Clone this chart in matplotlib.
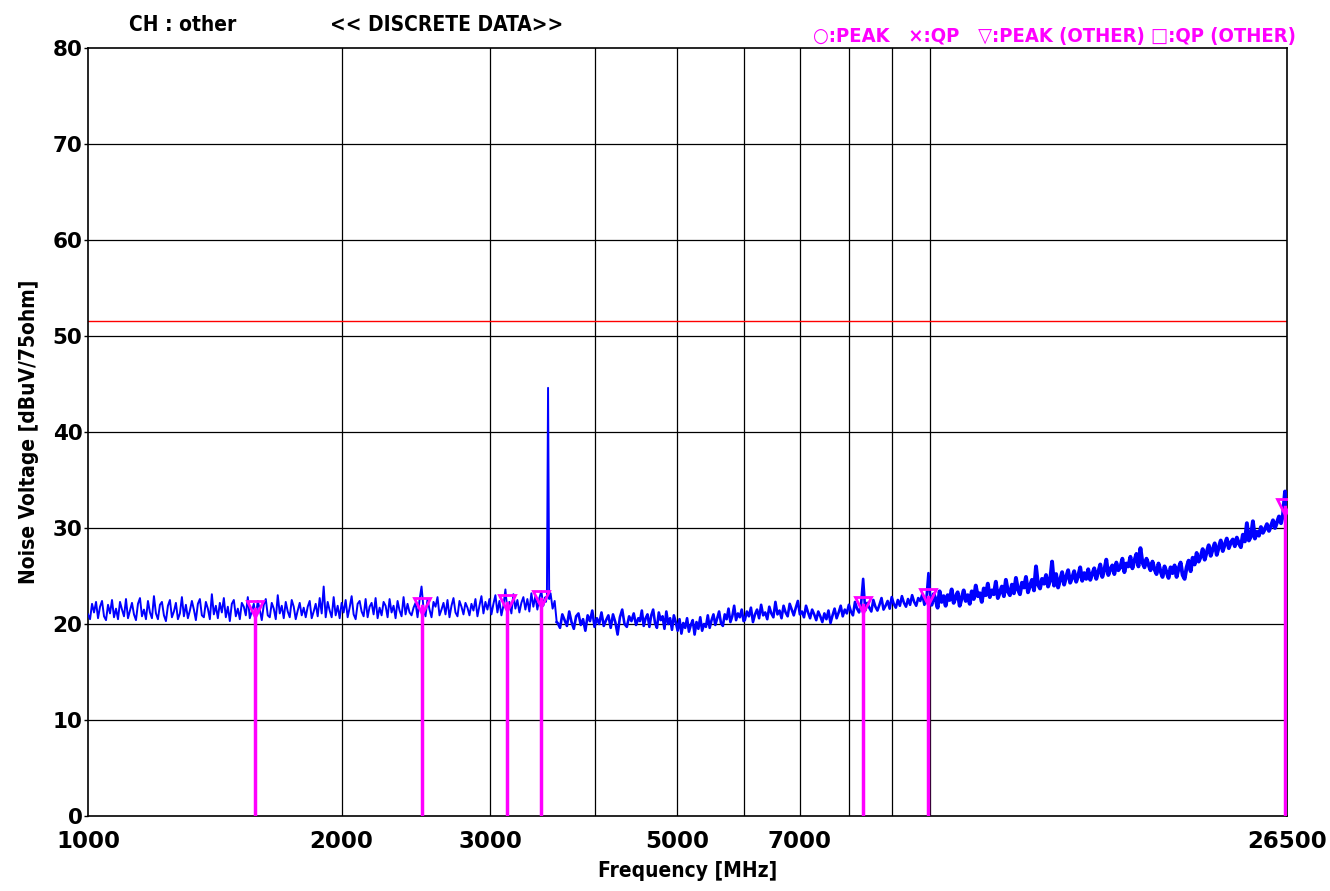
import matplotlib
matplotlib.use("Agg")
import matplotlib.pyplot as plt
import numpy as np

plt.rcParams['path.simplify'] = False

# ---------------- data ----------------
# measured trace, read off the picture segment by segment (MHz, dBuV)
segA_range = (1000, 3490)
segA = [21.0, 20.5, 22.1, 21.2, 22.3, 20.6, 21.8, 22.4, 20.8, 20.4, 22.0, 21.1, 22.5, 20.7, 21.6, 20.5, 22.3, 21.5, 20.8, 22.6,
        20.6, 21.4, 22.2, 21.0, 20.4, 22.1, 22.7, 20.8, 21.5, 20.5, 22.4, 21.2, 20.6, 22.9, 21.1, 20.5, 22.0, 22.3, 20.9, 20.3,
        21.9, 22.5, 20.7, 21.3, 22.2, 20.5, 21.1, 22.8, 20.8, 22.0, 20.6, 21.4, 22.4, 21.5, 20.4, 22.1, 22.6, 20.9, 20.7, 22.3,
        21.6, 20.5, 23.1, 21.0, 21.9, 20.6, 22.2, 21.2, 22.7, 20.7, 21.8, 20.3, 22.1, 22.5, 20.8, 21.6, 20.5, 22.2, 21.8, 20.9,
        22.8, 20.6, 21.3, 22.1, 20.7, 22.4, 21.5, 20.4, 22.0, 22.6, 20.9, 20.7, 22.2, 21.6, 20.5, 23.0, 21.1, 21.9, 20.6, 22.3,
        21.3, 20.7, 22.5, 21.8, 20.5, 21.4, 22.2, 20.9, 21.7, 20.7, 21.8, 22.4, 20.6, 21.3, 22.1, 20.8, 22.7, 21.1, 23.9, 20.7,
        22.3, 21.4, 20.7, 22.8, 20.9, 21.9, 20.6, 22.2, 21.2, 22.5, 20.7, 21.7, 22.9, 21.0, 20.5, 22.1, 22.4, 21.3, 20.8, 22.6,
        20.7, 21.8, 22.2, 21.0, 22.7, 20.6, 21.7, 20.9, 22.3, 21.9, 20.7, 22.6, 21.2, 21.9, 20.6, 22.4, 21.4, 20.8, 22.8, 21.0,
        22.1, 21.2, 20.9, 21.7, 22.2, 20.7, 22.5, 23.9, 21.6, 20.8, 22.6, 21.5, 20.7, 22.3, 21.8, 22.8, 20.9, 21.5, 22.2, 21.0,
        22.5, 20.7, 21.9, 22.7, 21.2, 20.8, 22.4, 21.8, 21.0, 22.2, 21.7, 20.9, 22.1, 21.4, 22.6, 20.8, 21.9, 22.9, 21.1, 22.3,
        21.5, 22.6, 21.0, 22.1, 23.0, 21.2, 22.4, 20.9, 21.9, 23.6, 21.3, 22.3, 21.1, 23.1, 21.6, 22.5, 21.2, 22.2, 22.8, 21.5,
        22.6, 21.3, 23.2, 21.8, 22.9, 21.5, 22.7, 23.4, 21.9, 22.8]
spike_freq = [3495, 3505, 3516, 3527, 3540, 3560, 3580, 3600]
spike_val = [22.3, 22.9, 44.6, 22.6, 23.2, 21.6, 22.4, 20.2]
segB_range = (3610, 4500)
segB = [20.1, 19.6, 21.0, 20.4, 19.8, 21.3, 20.2, 19.5, 20.8, 21.1, 19.9, 20.5, 19.3, 20.9, 20.3, 21.4, 19.7, 20.6,
        20.0, 21.2, 19.8, 20.4, 20.9, 19.6, 21.0, 20.2, 18.9, 20.7, 21.5, 20.0, 19.7, 20.8, 20.3, 21.1, 19.9, 20.6]
segC_range = (4520, 6000)
segC = [20.3, 21.4, 19.8, 20.6, 21.0, 19.7, 20.9, 21.5, 20.1, 19.6, 21.2, 20.4, 20.8, 19.5, 21.3, 20.0, 20.6, 19.4, 20.9, 20.2,
        19.3, 20.5, 19.0, 20.1, 19.6, 20.6, 19.2, 19.9, 20.4, 18.9, 20.2, 19.5, 20.7, 19.3, 20.0, 19.7, 20.9, 19.6, 20.4, 21.0,
        19.9, 20.6, 21.3, 20.1, 19.8, 21.0, 20.5, 21.6, 20.2, 20.8, 21.9, 20.4, 21.1, 20.7, 21.5, 20.3]
segD_range = (6020, 10000)
segD = [20.4, 21.3, 20.8, 21.7, 20.2, 21.0, 21.5, 20.6, 22.0, 20.9, 21.2, 20.5, 21.8, 21.1, 20.7, 22.3, 21.0, 21.4, 20.6, 21.9,
        21.2, 20.8, 22.1, 21.5, 20.9, 21.7, 22.4, 21.0, 21.3, 20.7, 21.9, 21.2, 20.6, 21.5, 21.0, 20.4, 21.3, 20.8, 20.2, 21.1,
        20.5, 21.4, 20.1, 20.9, 21.6, 20.6, 21.2, 21.9, 20.8, 21.5, 21.1, 22.0, 21.3, 20.9, 22.3, 21.6, 21.2, 22.1, 24.7, 21.4,
        22.2, 21.7, 21.3, 22.5, 21.8, 21.4, 22.0, 22.7, 21.5, 21.9, 22.4, 21.6, 22.8, 22.1, 21.7, 22.5, 21.9, 22.9, 22.2, 21.8,
        22.6, 22.0, 23.0, 22.3, 21.9, 22.7, 22.4, 23.1, 22.0, 22.6, 25.3, 22.3]
segE_range = (10030, 26500)
segE = [22.0, 23.1, 22.6, 21.7, 23.4, 22.3, 22.9, 21.9, 23.0, 22.5, 23.6, 22.2, 22.8, 23.3, 21.9, 22.7, 23.5, 22.4, 23.0, 22.1,
        23.4, 22.6, 24.0, 22.9, 23.2, 22.3, 23.7, 23.0, 24.2, 22.8, 23.5, 23.1, 24.4, 22.7, 23.3, 23.9, 22.9, 24.6, 23.4, 23.0,
        24.1, 23.2, 24.8, 23.6, 23.1, 24.3, 23.8, 24.9, 23.3, 24.0, 24.6, 23.5, 26.0, 24.1, 23.7, 24.7, 24.2, 25.1, 23.9, 24.5,
        26.5, 24.0, 25.2, 23.8, 24.6, 25.4, 24.1, 24.9, 25.6, 24.3, 24.8, 25.5, 24.4, 25.0, 25.9, 24.5, 25.3, 24.7, 25.7, 24.6,
        25.2, 25.8, 24.7, 25.4, 26.2, 24.9, 25.6, 26.7, 25.1, 25.7, 26.1, 25.2, 26.4, 25.6, 25.9, 26.8, 25.4, 26.3, 26.0, 27.0,
        25.8, 26.6, 27.3, 26.0, 27.9, 26.4, 25.9, 26.8, 26.2, 25.6, 26.5, 25.7, 25.2, 26.3, 25.5, 24.9, 26.0, 25.4, 24.8, 25.9,
        25.3, 26.1, 24.9, 25.8, 26.4, 25.1, 24.7, 25.9, 26.6, 25.5, 26.9, 26.2, 27.4, 26.5, 27.0, 27.8, 26.7, 27.5, 28.2, 27.1,
        27.8, 28.4, 27.2, 28.0, 28.7, 27.6, 28.3, 28.9, 27.9, 28.5, 28.8, 28.1, 29.0, 28.4, 28.0, 29.3, 28.6, 30.5, 28.7, 29.1,
        30.7, 28.9, 29.6, 29.2, 30.1, 29.5, 29.9, 30.4, 29.7, 30.2, 30.8, 30.0, 30.6, 31.2, 30.5, 31.4, 33.8, 31.2]

# discrete peak (other) markers
peak_freq = [1579, 2492, 3144, 3450, 8318, 9935, 26360]
peak_val = [21.6, 21.9, 22.2, 22.6, 22.0, 22.8, 32.2]

limit_val = 51.6

xtick_vals = [1000, 2000, 3000, 5000, 7000, 26500]
xgrid_vals = [2000, 3000, 4000, 5000, 6000, 7000, 8000, 9000, 10000]
yticks = list(range(0, 81, 10))

# ---------------- build trace ----------------
def seg_freqs(rng, vals):
    return np.geomspace(rng[0], rng[1], len(vals))

# lower band (1-3.6 GHz) is drawn thin, the denser upper part thicker
freq_lo = np.concatenate([seg_freqs(segA_range, segA), spike_freq])
level_lo = np.concatenate([segA, spike_val])
freq_mid = np.concatenate([[spike_freq[-1]], seg_freqs(segB_range, segB),
                           seg_freqs(segC_range, segC), seg_freqs(segD_range, segD)])
level_mid = np.concatenate([[spike_val[-1]], segB, segC, segD])
freq_hi = np.concatenate([[segD_range[1]], seg_freqs(segE_range, segE)])
level_hi = np.concatenate([[segD[-1]], segE])

# ---------------- plot ----------------
magenta = '#ff00ff'
blue = '#0000ff'
txt = dict(family=['DejaVu Sans'], fontweight='bold', fontstretch='condensed')

fig = plt.figure(figsize=(13.3, 8.91), dpi=100)
ax = fig.add_axes([0.0662, 0.0842, 0.9015, 0.8619])

ax.set_xscale('log')
ax.set_xlim(1000, 26500)
ax.set_ylim(0, 80)

for y in yticks[1:-1]:
    ax.axhline(y, color='black', lw=0.9, zorder=1)
for x in xgrid_vals:
    ax.axvline(x, color='black', lw=0.9, zorder=1)

ax.axhline(limit_val, color='red', lw=1.0, zorder=2)

ax.plot(freq_lo, level_lo, color=blue, lw=1.4, zorder=3)
ax.plot(freq_mid, level_mid, color=blue, lw=1.9, zorder=3)
ax.plot(freq_hi, level_hi, color=blue, lw=2.8, zorder=3)

for f, v in zip(peak_freq, peak_val):
    ax.plot([f, f], [0, v], color=magenta, lw=2.5, zorder=4)
ax.plot(peak_freq, peak_val, 'v', ms=11, mfc='none', mec=magenta, mew=2, zorder=5)

ax.set_xticks(xtick_vals)
ax.set_xticklabels([str(v) for v in xtick_vals])
ax.xaxis.set_minor_locator(matplotlib.ticker.NullLocator())
ax.set_yticks(yticks)
ax.tick_params(axis='x', length=0, pad=10)
ax.tick_params(axis='y', length=3, width=1, pad=1)
for lab in ax.get_xticklabels():
    lab.set_fontweight('bold')
    lab.set_fontsize(16.5)
for lab in ax.get_yticklabels():
    lab.set_fontweight('bold')
    lab.set_fontsize(15.5)

for s in ax.spines.values():
    s.set_linewidth(1.2)

ax.set_xlabel('Frequency [MHz]', fontsize=15, labelpad=6, **txt)
ax.set_ylabel('Noise Voltage [dBuV/75ohm]', fontsize=15, labelpad=10, **txt)

fig.text(0.097, 0.972, 'CH : other', fontsize=15, va='center', **txt)
fig.text(0.248, 0.972, '<< DISCRETE DATA>>', fontsize=15, va='center', **txt)
fig.text(0.974, 0.959, '\u25cb:PEAK   \u00d7:QP   \u25bd:PEAK (OTHER) \u25a1:QP (OTHER)',
         fontsize=14.5, color=magenta, ha='right', va='center', **txt)

fig.savefig('out.png', dpi=100)
